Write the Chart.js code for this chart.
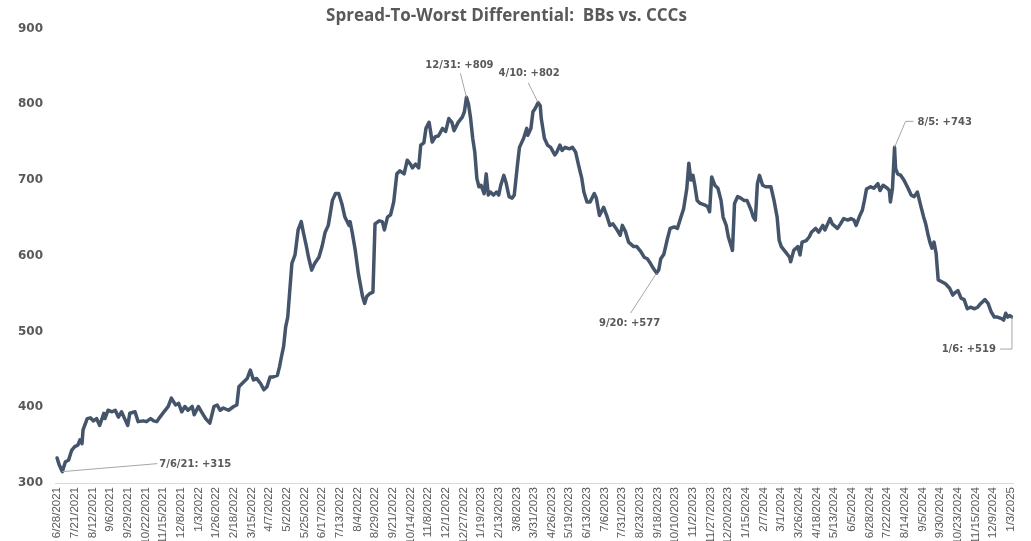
<!DOCTYPE html>
<html>
<head>
<meta charset="utf-8">
<script src="https://cdn.jsdelivr.net/npm/chart.js@4.4.1/dist/chart.umd.min.js"></script>
<style>
  html, body { margin: 0; padding: 0; background: #fff; overflow: hidden; }
  #wrap { width: 1031px; height: 541px; }
</style>
</head>
<body>
<div id="wrap"><canvas id="spreadChart" width="1031" height="541"></canvas></div>
<script>
// x tick labels, one every 17 trading days
const dateLabels = [
  '6/28/2021', '7/21/2021', '8/12/2021', '9/6/2021', '9/29/2021', '10/22/2021', '11/15/2021', '12/8/2021',
  '1/3/2022', '1/26/2022', '2/18/2022', '3/15/2022', '4/7/2022', '5/2/2022', '5/25/2022', '6/17/2022',
  '7/13/2022', '8/4/2022', '8/29/2022', '9/21/2022', '10/14/2022', '11/8/2022', '12/1/2022', '12/27/2022',
  '1/19/2023', '2/13/2023', '3/8/2023', '3/31/2023', '4/26/2023', '5/19/2023', '6/13/2023', '7/6/2023',
  '7/31/2023', '8/23/2023', '9/18/2023', '10/10/2023', '11/2/2023', '11/27/2023', '12/20/2023', '1/15/2024',
  '2/7/2024', '3/1/2024', '3/26/2024', '4/18/2024', '5/13/2024', '6/5/2024', '6/28/2024', '7/22/2024',
  '8/14/2024', '9/5/2024', '9/30/2024', '10/23/2024', '11/15/2024', '12/9/2024', '1/3/2025'
];
const labelStep = 17;
const yTicks = [300, 400, 500, 600, 700, 800, 900];

// trading day number since 6/28/2021, and the BB-CCC spread (bp)
const tradingDay = [
  0, 2, 5, 8, 11, 14, 17, 20, 22, 24, 25, 29, 32, 35, 38, 41, 45, 46, 49, 53, 56, 59, 62, 66, 68, 70, 75, 78, 83, 86,
  90, 93, 96, 99, 104, 107, 110, 114, 117, 120, 123, 126, 130, 132, 136, 139, 143, 147, 151, 154, 157, 160, 165, 170, 173, 175, 180, 183, 186, 189,
  192, 196, 199, 202, 205, 208, 212, 214, 216, 218, 220, 222, 224, 226, 229, 232, 235, 237, 240, 242, 245, 248, 252, 255, 258, 261, 265, 268, 271, 274,
  277, 281, 282, 284, 287, 290, 294, 296, 298, 301, 304, 306, 310, 313, 315, 318, 321, 324, 327, 330, 334, 337, 340, 342, 345, 348, 350, 353, 355, 358,
  359, 361, 364, 367, 371, 374, 377, 380, 382, 386, 390, 392, 394, 396, 398, 400, 402, 404, 406, 408, 411, 413, 415, 417, 420, 423, 425, 427, 430, 432,
  435, 438, 440, 443, 445, 449, 452, 453, 456, 458, 460, 463, 465, 466, 469, 472, 475, 479, 481, 484, 486, 489, 493, 496, 499, 502, 505, 507, 510, 513,
  517, 519, 522, 526, 529, 532, 535, 538, 542, 544, 547, 550, 555, 558, 562, 565, 568, 571, 574, 577, 579, 581, 584, 587, 590, 594, 597, 600, 603, 606,
  608, 610, 612, 614, 616, 619, 623, 626, 628, 630, 633, 636, 639, 641, 644, 646, 648, 650, 652, 655, 658, 661, 664, 668, 670, 672, 674, 676, 679, 682,
  687, 690, 693, 695, 697, 701, 705, 706, 709, 713, 715, 717, 721, 724, 726, 730, 733, 737, 739, 741, 744, 746, 751, 754, 757, 761, 764, 767, 769, 772,
  775, 777, 779, 783, 786, 790, 792, 795, 799, 801, 802, 804, 806, 807, 809, 812, 815, 819, 822, 825, 828, 831, 834, 836, 838, 840, 842, 844, 846, 848,
  851, 855, 859, 862, 865, 867, 870, 873, 876, 879, 883, 886, 889, 893, 896, 899, 902, 905, 909, 911, 913, 915, 917, 919
];
const spreadBps = [
  333, 324, 315, 328, 330, 343, 348, 350, 357, 352, 370, 385, 386, 382, 385, 376, 392, 385, 396, 394, 396, 387, 394, 382, 376, 392, 394, 381, 382, 381,
  385, 382, 381, 387, 396, 401, 412, 403, 405, 394, 401, 396, 401, 390, 401, 394, 385, 379, 401, 403, 396, 399, 396, 401, 403, 427, 434, 438, 449, 436,
  438, 431, 423, 427, 440, 440, 442, 453, 467, 480, 506, 519, 555, 590, 601, 634, 645, 631, 612, 598, 581, 590, 598, 612, 631, 640, 673, 682, 682, 669,
  651, 640, 645, 631, 607, 576, 546, 537, 546, 550, 552, 642, 646, 645, 634, 651, 654, 671, 708, 712, 708, 726, 721, 716, 721, 716, 746, 749, 768, 776,
  768, 750, 757, 758, 768, 764, 781, 776, 765, 776, 783, 790, 809, 800, 781, 755, 737, 702, 691, 693, 682, 708, 680, 684, 680, 684, 680, 693, 706, 697,
  678, 676, 680, 719, 743, 755, 768, 759, 768, 790, 794, 802, 798, 781, 755, 746, 743, 733, 737, 746, 739, 743, 741, 743, 737, 719, 702, 684, 671, 671,
  682, 676, 653, 664, 653, 640, 642, 636, 627, 640, 632, 618, 612, 612, 605, 598, 596, 590, 583, 577, 581, 596, 602, 620, 636, 638, 636, 649, 662, 688,
  722, 700, 706, 691, 673, 669, 667, 665, 658, 704, 693, 689, 673, 651, 640, 625, 616, 607, 669, 678, 676, 673, 673, 660, 651, 647, 695, 706, 693, 691,
  691, 673, 651, 620, 612, 605, 598, 592, 607, 612, 601, 618, 620, 625, 631, 636, 631, 640, 634, 640, 649, 642, 636, 642, 649, 647, 649, 647, 640, 651,
  660, 673, 688, 691, 689, 695, 686, 693, 689, 686, 671, 689, 743, 715, 708, 706, 700, 689, 680, 678, 684, 667, 651, 642, 629, 618, 610, 618, 603, 568,
  566, 563, 557, 548, 552, 554, 544, 542, 530, 532, 530, 532, 537, 542, 537, 526, 519, 519, 517, 515, 524, 519, 521, 519
];

// callouts on the line
const calloutText = ['7/6/21: +315', '12/31: +809', '4/10: +802', '9/20: +577', '8/5: +743', '1/6: +519'];
const calloutDay = [5, 394, 463, 577, 806, 919];
const calloutValue = [315, 809, 802, 577, 743, 519];
// leader line path and text offset (px) from each point
const calloutLayout = [
  { path: [[95, -8]], text: [97, -7], align: 'left' },
  { path: [[-6, -24]], text: [-7, -32], align: 'center' },
  { path: [[-10, -20]], text: [-9, -29], align: 'center' },
  { path: [[-26, 40]], text: [-27, 50], align: 'center' },
  { path: [[11, -26], [19, -26]], text: [23, -25], align: 'left' },
  { path: [[0, 32], [-12, 32]], text: [-16, 32], align: 'right' }
];

const calloutPlugin = {
  id: 'callouts',
  afterDatasetsDraw(chart) {
    const { ctx, scales: { x, y } } = chart;
    ctx.save();
    calloutText.forEach((text, i) => {
      const px = x.getPixelForValue(calloutDay[i]);
      const py = y.getPixelForValue(calloutValue[i]);
      const c = calloutLayout[i];
      ctx.strokeStyle = '#a6a6a6';
      ctx.lineWidth = 1;
      ctx.beginPath();
      ctx.moveTo(px, py);
      c.path.forEach(([dx, dy]) => ctx.lineTo(px + dx, py + dy));
      ctx.stroke();
      ctx.fillStyle = '#595959';
      ctx.font = 'bold 10px "DejaVu Sans"';
      ctx.textAlign = c.align;
      ctx.textBaseline = 'middle';
      ctx.fillText(text, px + c.text[0], py + c.text[1]);
    });
    ctx.restore();
  }
};

function drawChart() {
  const ctx = document.getElementById('spreadChart').getContext('2d');
  const points = tradingDay.map((d, i) => ({ x: d, y: spreadBps[i] }));

  new Chart(ctx, {
    type: 'line',
    data: {
      datasets: [{
        data: points,
        borderColor: '#44546A',
        borderWidth: 3.5,
        pointRadius: 0,
        tension: 0,
        borderJoinStyle: 'round',
        borderCapStyle: 'round'
      }]
    },
    options: {
      responsive: false,
      animation: false,
      layout: { padding: { left: 0, right: 18, top: 0, bottom: 0 } },
      plugins: {
        legend: { display: false },
        tooltip: { enabled: false },
        title: {
          display: true,
          text: 'Spread-To-Worst Differential:  BBs vs. CCCs',
          color: '#595959',
          font: { family: '"Open Sans"', size: 17, weight: 'bold' },
          padding: { top: 6, bottom: 2 }
        }
      },
      scales: {
        x: {
          type: 'linear',
          min: -2,
          max: 920,
          grid: { display: false, drawTicks: false },
          border: { display: true, color: '#d9d9d9', width: 1 },
          afterBuildTicks: s => { s.ticks = dateLabels.map((_, i) => ({ value: i * labelStep })); },
          afterFit: s => { s.height = 58; },
          ticks: {
            autoSkip: false,
            minRotation: 90,
            maxRotation: 90,
            padding: 4,
            color: '#595959',
            font: { family: '"Liberation Sans"', size: 11.5 },
            callback: (v, i) => dateLabels[i]
          }
        },
        y: {
          min: 300,
          max: 900,
          afterBuildTicks: s => { s.ticks = yTicks.map(v => ({ value: v })); },
          afterFit: s => { s.width = 55; },
          grid: { display: false, drawTicks: false },
          border: { display: false },
          ticks: {
            padding: 12,
            color: '#595959',
            font: { family: '"DejaVu Sans"', size: 12, weight: 'bold' }
          }
        }
      }
    },
    plugins: [calloutPlugin]
  });
}

window.addEventListener('DOMContentLoaded', drawChart);
</script>
</body>
</html>
